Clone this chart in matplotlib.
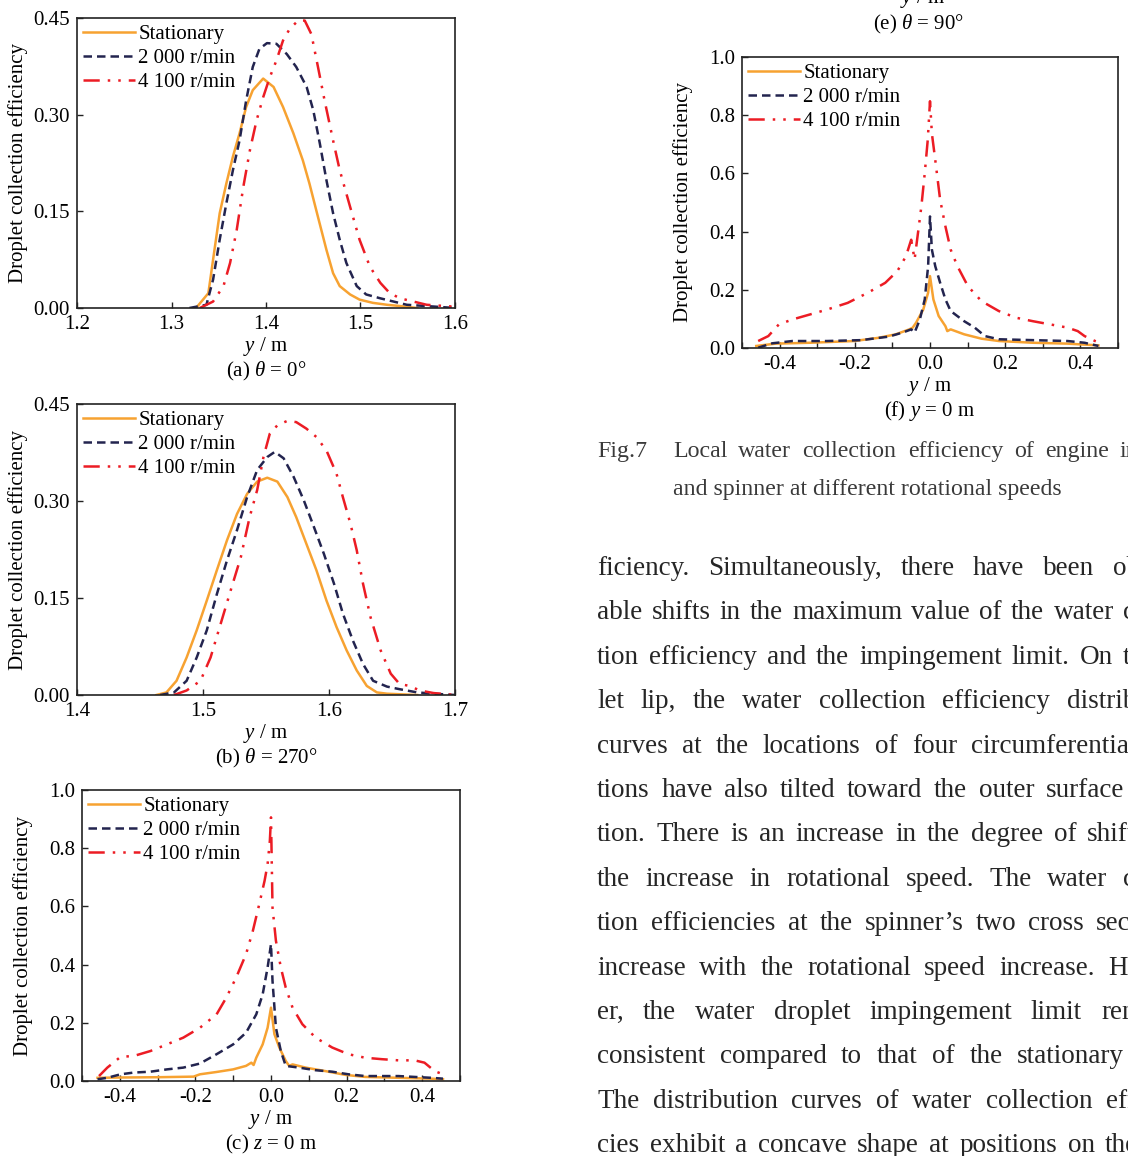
import numpy as np
import matplotlib
matplotlib.use("Agg")
import matplotlib.pyplot as plt
from matplotlib.ticker import FormatStrFormatter, MultipleLocator

plt.rcParams["font.family"] = ["Liberation Serif", "DejaVu Serif"]
plt.rcParams["mathtext.fontset"] = "custom"
plt.rcParams["mathtext.rm"] = "Liberation Serif"
plt.rcParams["mathtext.it"] = "Liberation Serif:italic"

W, H = 1128, 1156

labels = ["Stationary", "2 000 r/min", "4 100 r/min"]
colors = ["#F7A231", "#23244F", "#EC1C24"]
styles = ["-", (0, (3.4, 2.0)), (0, (6.5, 3.2, 1.0, 3.2, 1.0, 3.2))]

# (a) theta = 0 deg
a_stat_x = [1.326, 1.339, 1.344, 1.351, 1.358, 1.365, 1.372, 1.379, 1.386, 1.397, 1.408, 1.418,
            1.429, 1.439, 1.446, 1.454, 1.464, 1.471, 1.478, 1.489, 1.499, 1.513, 1.528, 1.542, 1.56]
a_stat_y = [0.0, 0.023, 0.075, 0.147, 0.193, 0.235, 0.271, 0.312, 0.338, 0.356, 0.343, 0.312,
            0.271, 0.229, 0.193, 0.147, 0.090, 0.054, 0.034, 0.021, 0.013, 0.008, 0.005, 0.003, 0.0]
a_2000_x = [1.319, 1.337, 1.344, 1.351, 1.358, 1.365, 1.372, 1.379, 1.386, 1.393, 1.401, 1.411,
            1.422, 1.432, 1.443, 1.450, 1.457, 1.464, 1.471, 1.478, 1.485, 1.496, 1.506, 1.521,
            1.535, 1.549, 1.57, 1.6]
a_2000_y = [0.0, 0.005, 0.044, 0.106, 0.162, 0.214, 0.260, 0.322, 0.374, 0.402, 0.411, 0.410,
            0.394, 0.374, 0.343, 0.307, 0.255, 0.198, 0.147, 0.106, 0.070, 0.034, 0.021, 0.015,
            0.010, 0.005, 0.003, 0.0]
a_4100_x = [1.330, 1.344, 1.355, 1.362, 1.369, 1.376, 1.383, 1.390, 1.397, 1.404, 1.411, 1.418,
            1.425, 1.434, 1.441, 1.448, 1.455, 1.462, 1.471, 1.478, 1.489, 1.499, 1.510, 1.521,
            1.531, 1.542, 1.556, 1.57, 1.6]
a_4100_y = [0.0, 0.010, 0.034, 0.070, 0.121, 0.188, 0.245, 0.291, 0.327, 0.358, 0.384, 0.415,
            0.433, 0.446, 0.446, 0.425, 0.374, 0.322, 0.260, 0.214, 0.157, 0.106, 0.064, 0.039,
            0.023, 0.015, 0.010, 0.005, 0.002]

# (b) theta = 270 deg
b_stat_x = [1.463, 1.471, 1.479, 1.487, 1.495, 1.503, 1.511, 1.519, 1.527, 1.535, 1.543, 1.551,
            1.559, 1.567, 1.574, 1.582, 1.590, 1.598, 1.606, 1.614, 1.622, 1.630, 1.638, 1.646, 1.67]
b_stat_y = [0.0, 0.004, 0.022, 0.058, 0.100, 0.146, 0.193, 0.239, 0.280, 0.311, 0.330, 0.336,
            0.330, 0.306, 0.275, 0.234, 0.193, 0.146, 0.105, 0.069, 0.038, 0.014, 0.004, 0.002, 0.0]
b_2000_x = [1.466, 1.477, 1.487, 1.495, 1.503, 1.511, 1.519, 1.527, 1.535, 1.543, 1.551, 1.557,
            1.564, 1.572, 1.580, 1.588, 1.596, 1.604, 1.611, 1.619, 1.627, 1.635, 1.646, 1.656,
            1.67, 1.683, 1.7]
b_2000_y = [0.0, 0.004, 0.022, 0.058, 0.100, 0.156, 0.208, 0.255, 0.306, 0.348, 0.368, 0.376,
            0.366, 0.337, 0.301, 0.260, 0.218, 0.172, 0.126, 0.084, 0.048, 0.022, 0.013, 0.009,
            0.004, 0.002, 0.0]
b_4100_x = [1.477, 1.487, 1.498, 1.506, 1.514, 1.522, 1.530, 1.537, 1.543, 1.548, 1.553, 1.559,
            1.567, 1.574, 1.582, 1.590, 1.598, 1.606, 1.611, 1.617, 1.622, 1.627, 1.633, 1.641,
            1.649, 1.656, 1.664, 1.672, 1.683, 1.7]
b_4100_y = [0.0, 0.007, 0.022, 0.058, 0.110, 0.162, 0.213, 0.275, 0.317, 0.368, 0.404, 0.417,
            0.424, 0.422, 0.412, 0.399, 0.378, 0.342, 0.306, 0.265, 0.224, 0.172, 0.120, 0.069,
            0.033, 0.017, 0.014, 0.007, 0.003, 0.0]

# (c) z = 0 m
c_stat_x = [-0.459, -0.40, -0.30, -0.205, -0.188, -0.144, -0.100, -0.066, -0.052, -0.046, -0.039,
            -0.022, -0.009, 0.0, 0.009, 0.022, 0.039, 0.048, 0.057, 0.092, 0.144, 0.197, 0.249,
            0.337, 0.424, 0.455]
c_stat_y = [0.011, 0.012, 0.013, 0.015, 0.023, 0.031, 0.040, 0.052, 0.063, 0.055, 0.080,
            0.126, 0.183, 0.252, 0.161, 0.115, 0.069, 0.052, 0.057, 0.046, 0.034, 0.021, 0.014,
            0.011, 0.008, 0.006]
c_2000_x = [-0.459, -0.433, -0.398, -0.363, -0.319, -0.275, -0.232, -0.188, -0.144, -0.100, -0.066,
            -0.039, -0.022, -0.009, 0.0, 0.004, 0.013, 0.026, 0.039, 0.074, 0.118, 0.162, 0.205,
            0.249, 0.337, 0.380, 0.424, 0.455]
c_2000_y = [0.006, 0.011, 0.023, 0.029, 0.032, 0.040, 0.046, 0.060, 0.092, 0.126, 0.166,
            0.229, 0.298, 0.390, 0.470, 0.344, 0.183, 0.103, 0.052, 0.046, 0.037, 0.032, 0.023,
            0.017, 0.017, 0.014, 0.011, 0.008]
c_4100_x = [-0.455, -0.433, -0.398, -0.363, -0.319, -0.275, -0.232, -0.188, -0.144, -0.118, -0.092,
            -0.066, -0.048, -0.031, -0.017, -0.009, -0.003, 0.0, 0.004, 0.013, 0.026, 0.039, 0.057,
            0.083, 0.118, 0.162, 0.205, 0.249, 0.293, 0.337, 0.380, 0.406, 0.433, 0.455]
c_4100_y = [0.017, 0.046, 0.083, 0.086, 0.103, 0.126, 0.149, 0.183, 0.229, 0.287, 0.356,
            0.436, 0.516, 0.608, 0.688, 0.745, 0.826, 0.906, 0.596, 0.482, 0.390, 0.321, 0.252,
            0.195, 0.149, 0.115, 0.092, 0.080, 0.075, 0.071, 0.071, 0.063, 0.034, 0.023]

# (f) y = 0 m
f_stat_x = [-0.462, -0.411, -0.320, -0.201, -0.137, -0.091, -0.055, -0.046, -0.037, -0.018, -0.005,
            0.0, 0.009, 0.023, 0.041, 0.046, 0.055, 0.091, 0.137, 0.183, 0.274, 0.366, 0.448]
f_stat_y = [0.007, 0.015, 0.018, 0.024, 0.035, 0.047, 0.064, 0.070, 0.087, 0.132, 0.190,
            0.247, 0.167, 0.110, 0.075, 0.058, 0.064, 0.047, 0.032, 0.024, 0.018, 0.015, 0.009]
f_2000_x = [-0.457, -0.420, -0.366, -0.274, -0.183, -0.110, -0.073, -0.050, -0.041, -0.027, -0.014,
            -0.005, 0.0, 0.005, 0.014, 0.027, 0.041, 0.055, 0.091, 0.119, 0.146, 0.183, 0.274,
            0.366, 0.411, 0.448]
f_2000_y = [0.001, 0.016, 0.024, 0.024, 0.027, 0.039, 0.053, 0.064, 0.053, 0.098, 0.167,
            0.281, 0.452, 0.338, 0.281, 0.224, 0.167, 0.127, 0.092, 0.070, 0.041, 0.030, 0.027,
            0.024, 0.018, 0.007]
f_4100_x = [-0.457, -0.430, -0.402, -0.366, -0.320, -0.274, -0.219, -0.165, -0.119, -0.087, -0.064,
            -0.050, -0.041, -0.032, -0.023, -0.014, -0.006, 0.0, 0.005, 0.014, 0.027, 0.041, 0.055,
            0.073, 0.101, 0.137, 0.183, 0.229, 0.274, 0.320, 0.366, 0.393, 0.411, 0.439, 0.452]
f_4100_y = [0.024, 0.041, 0.081, 0.098, 0.115, 0.132, 0.155, 0.190, 0.224, 0.264, 0.315,
            0.372, 0.304, 0.395, 0.486, 0.600, 0.715, 0.848, 0.737, 0.646, 0.509, 0.418, 0.338,
            0.281, 0.212, 0.161, 0.127, 0.104, 0.092, 0.081, 0.070, 0.058, 0.041, 0.024, 0.018]

body_lines = [
    ("ficiency. Simultaneously, there have been ob-", 5, 1113),
    ("able shifts in the maximum value of the water col-", 9, 1123),
    ("tion efficiency and the impingement limit. On the", 7, 1123),
    ("let lip, the water collection efficiency distribution", 6, 1067),
    ("curves at the locations of four circumferential posi-", 6, 971),
    ("tions have also tilted toward the outer surface direc-", 7, 1046),
    ("tion. There is an increase in the degree of shift with", 9, 1087),
    ("the increase in rotational speed. The water collec-", 7, 1123),
    ("tion efficiencies at the spinner\u2019s two cross sections", 7, 1096),
    ("increase with the rotational speed increase. Howev-", 6, 1108),
    ("er, the water droplet impingement limit remains", 6, 1101),
    ("consistent compared to that of the stationary state.", 6, 1017),
    ("The distribution curves of water collection efficien-", 6, 1106),
    ("cies exhibit a concave shape at positions on the spinner", 8, 1105),
]

fig = plt.figure(figsize=(W / 100, H / 100), dpi=100)


def px_axes(left, top, right, bottom):
    return fig.add_axes([left / W, 1 - bottom / H, (right - left) / W, (bottom - top) / H])


def draw_panel(ax, series, xlim, ylim, xticks, yticks, xfmt, yfmt, caption, minor=None):
    for (x, y), lab, c, ls in zip(series, labels, colors, styles):
        ax.plot(x, y, color=c, linestyle=ls, lw=1.8, label=lab)
    ax.set_xlim(*xlim)
    ax.set_ylim(*ylim)
    ax.set_xticks(xticks)
    ax.set_yticks(yticks)
    ax.xaxis.set_major_formatter(FormatStrFormatter(xfmt))
    ax.yaxis.set_major_formatter(FormatStrFormatter(yfmt))
    if minor:
        ax.xaxis.set_minor_locator(MultipleLocator(minor))
    ax.tick_params(which="both", direction="in", length=4, width=1.0, labelsize=15,
                   top=False, right=False, color="#222222")
    ax.tick_params(axis="x", pad=5)
    ax.tick_params(axis="y", pad=5)
    for s in ax.spines.values():
        s.set_linewidth(1.2)
        s.set_color("#222222")
    ax.set_ylabel("Droplet collection efficiency", fontsize=15)
    ax.yaxis.set_label_coords(-0.13, 0.5)
    ax.text(0.5, -0.132, "$y$ / m", transform=ax.transAxes, ha="center", va="center", fontsize=15)
    ax.text(0.5, -0.218, caption, transform=ax.transAxes, ha="center", va="center", fontsize=15)
    ax.legend(loc="upper left", frameon=False, fontsize=15, handlelength=2.5,
              handletextpad=0.15, labelspacing=0.22, borderaxespad=0.2, borderpad=0.1)


ax_a = px_axes(77, 18, 455, 308)
draw_panel(ax_a, [(a_stat_x, a_stat_y), (a_2000_x, a_2000_y), (a_4100_x, a_4100_y)],
           (1.2, 1.6), (0, 0.45), [1.2, 1.3, 1.4, 1.5, 1.6], [0, 0.15, 0.30, 0.45],
           "%.1f", "%.2f", r"(a) $\theta$ = 0$\degree$")

ax_b = px_axes(77, 404, 455, 695)
draw_panel(ax_b, [(b_stat_x, b_stat_y), (b_2000_x, b_2000_y), (b_4100_x, b_4100_y)],
           (1.4, 1.7), (0, 0.45), [1.4, 1.5, 1.6, 1.7], [0, 0.15, 0.30, 0.45],
           "%.1f", "%.2f", r"(b) $\theta$ = 270$\degree$")

ax_c = px_axes(82, 790, 460, 1081)
draw_panel(ax_c, [(c_stat_x, c_stat_y), (c_2000_x, c_2000_y), (c_4100_x, c_4100_y)],
           (-0.5, 0.5), (0, 1.0), [-0.4, -0.2, 0, 0.2, 0.4], [0, 0.2, 0.4, 0.6, 0.8, 1.0],
           "%.1f", "%.1f", "(c) $z$ = 0 m", minor=0.1)

ax_f = px_axes(742, 57, 1118, 348)
draw_panel(ax_f, [(f_stat_x, f_stat_y), (f_2000_x, f_2000_y), (f_4100_x, f_4100_y)],
           (-0.5, 0.5), (0, 1.0), [-0.4, -0.2, 0, 0.2, 0.4], [0, 0.2, 0.4, 0.6, 0.8, 1.0],
           "%.1f", "%.1f", "(f) $y$ = 0 m", minor=0.1)

# tail of panel (e) above, cut by the page edge
fig.text(923 / W, 1 - 3 / H, "$y$ / m", ha="center", va="baseline", fontsize=15)
fig.text(918 / W, 1 - 24 / H, r"(e) $\theta$ = 90$\degree$", ha="center", va="center", fontsize=15)

renderer = fig.canvas.get_renderer()


def justify(text, x0, y, anchor, anchor_x, **kw):
    words = text.split(" ")
    items = [fig.text(0, 1 - y / H, w, va="baseline", **kw) for w in words]
    widths = [t.get_window_extent(renderer).width for t in items]
    gap = (anchor_x - x0 - sum(widths[:anchor])) / anchor
    x = x0
    for t, w in zip(items, widths):
        t.set_x(x / W)
        x += w + gap


cap_kw = dict(fontsize=17.2, color="#3a3a3a")
fig.text(597 / W, 1 - 457 / H, "Fig.7", va="baseline", **cap_kw)
justify("Local water collection efficiency of engine inlet", 673, 457, 6, 1120, **cap_kw)
fig.text(673 / W, 1 - 495 / H, "and spinner at different rotational speeds", va="baseline", **cap_kw)

for i, (line, anchor, ax_x) in enumerate(body_lines):
    justify(line, 597, 575 + 44.4 * i, anchor, ax_x, fontsize=19.5, color="#262626")

fig.savefig("out.png", dpi=100)
